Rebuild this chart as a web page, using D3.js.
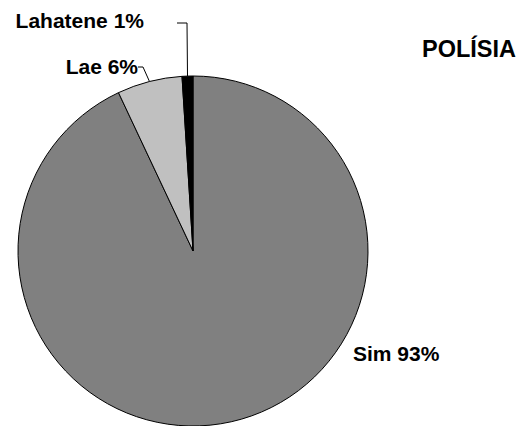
<!DOCTYPE html>
<html>
<head>
<meta charset="utf-8">
<script src="https://cdn.jsdelivr.net/npm/d3@7"></script>
<style>
  html, body { margin: 0; padding: 0; background: #fff; }
  svg { display: block; }
  text { font-family: "Liberation Sans", Arial, sans-serif; font-weight: bold; fill: #000; }
</style>
</head>
<body>
<svg id="chart" width="520" height="426"></svg>
<script>
// Data
const categories = ["Sim", "Lae", "Lahatene"];
const values = [93, 6, 1];
const labels = ["Sim 93%", "Lae 6%", "Lahatene 1%"];
const title = "POLÍSIA";

// Layout / styles (kept separate from data)
const colors = ["#808080", "#c0c0c0", "#000000"];
const cx = 193, cy = 251, r = 175;
// label text anchor points (relative to pie center) and leader elbow points
const labelLayout = [
  { dx: 160, dy: 110, anchor: "start", leader: null },
  { dx: -55, dy: -177, anchor: "end", leader: { ex: -50, ey: -184, hx: -55 } },
  { dx: -49, dy: -223, anchor: "end", leader: { ex: -6, ey: -228, hx: -16 } }
];

const svg = d3.select("#chart");
const g = svg.append("g").attr("transform", `translate(${cx},${cy})`);

const pie = d3.pie().sort(null).value(d => d)(values);
const arc = d3.arc().innerRadius(0).outerRadius(r);

g.selectAll("path.slice")
  .data(pie)
  .join("path")
  .attr("class", "slice")
  .attr("d", arc)
  .attr("fill", (d, i) => colors[i])
  .attr("stroke", "#000")
  .attr("stroke-width", 1)
  .attr("stroke-linejoin", "round");

// leader lines
pie.forEach((d, i) => {
  const L = labelLayout[i].leader;
  if (!L) return;
  const mid = (d.startAngle + d.endAngle) / 2;
  const px = Math.sin(mid) * r, py = -Math.cos(mid) * r;
  g.append("polyline")
    .attr("points", `${px},${py} ${L.ex},${L.ey} ${L.hx},${L.ey}`)
    .attr("fill", "none")
    .attr("stroke", "#000")
    .attr("stroke-width", 1);
});

// labels
g.selectAll("text.lbl")
  .data(pie)
  .join("text")
  .attr("class", "lbl")
  .attr("x", (d, i) => labelLayout[i].dx)
  .attr("y", (d, i) => labelLayout[i].dy)
  .attr("text-anchor", (d, i) => labelLayout[i].anchor)
  .style("font-size", "21px")
  .text((d, i) => labels[i]);

svg.append("text")
  .attr("x", 422)
  .attr("y", 57)
  .style("font-size", "23.5px")
  .text(title);
</script>
</body>
</html>
